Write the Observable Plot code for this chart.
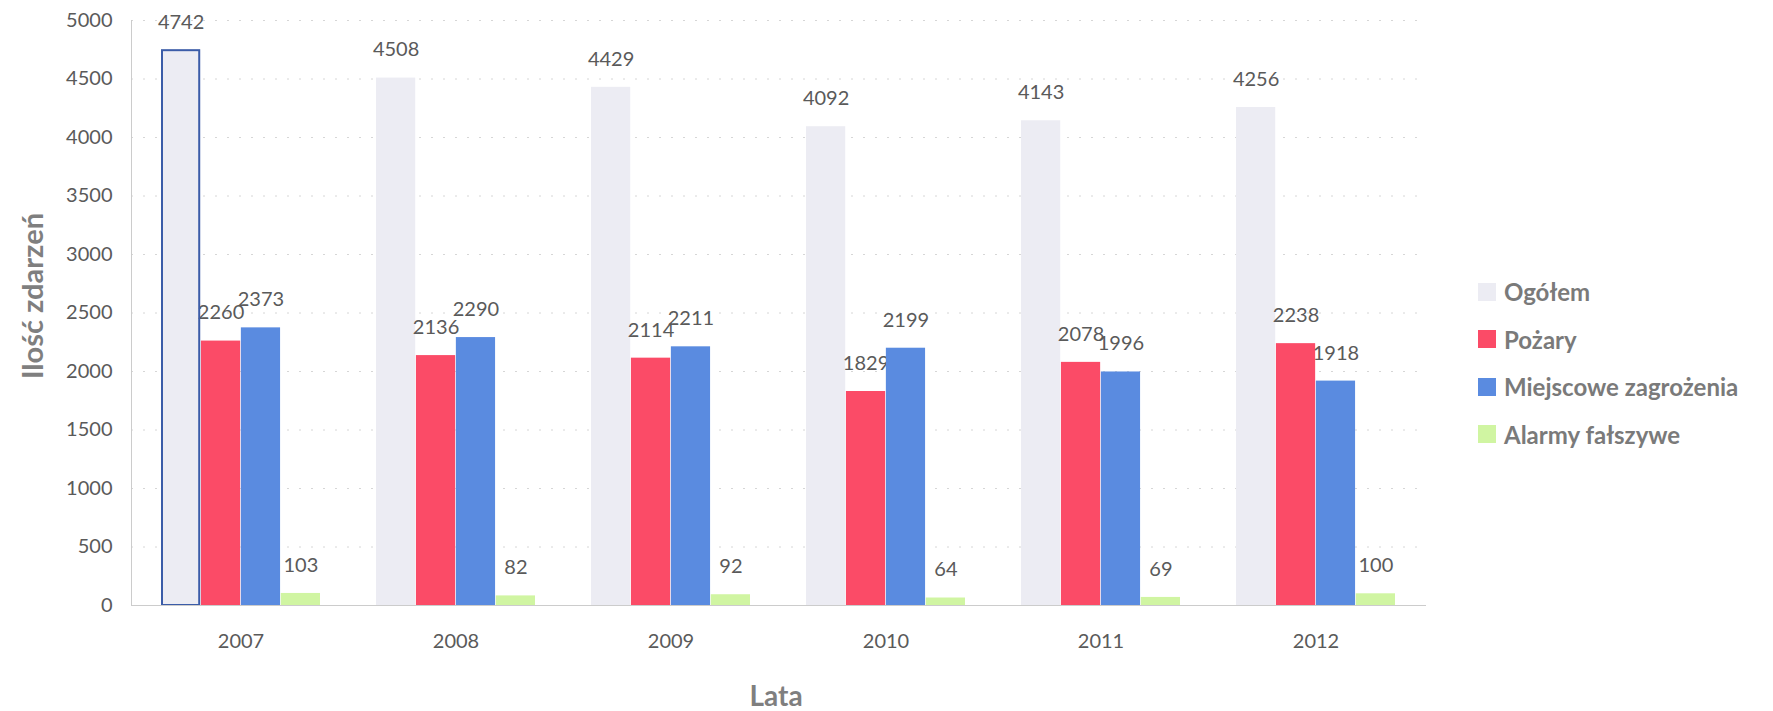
<!DOCTYPE html>
<html>
<head>
<meta charset="utf-8">
<script src="https://cdn.jsdelivr.net/npm/d3@7"></script>
<script src="https://cdn.jsdelivr.net/npm/@observablehq/plot@0.6"></script>
<style>
  html, body { margin: 0; padding: 0; background: #fff; }
  #wrap { position: relative; width: 1773px; height: 711px; font-family: Lato, "Open Sans", sans-serif; }
  #ytitle { position: absolute; left: 31px; top: 296px; transform: translate(-50%, -50%) rotate(-90deg); font-weight: bold; font-size: 29px; color: #7f7f7f; white-space: nowrap; }
  #xtitle { position: absolute; left: 776px; top: 695px; transform: translate(-50%, -50%); font-weight: bold; font-size: 28px; color: #7f7f7f; white-space: nowrap; }
  #legend { position: absolute; left: 1478px; top: 268px; font-weight: bold; font-size: 24px; color: #7a7a7a; }
  .row { display: flex; align-items: center; height: 47.5px; }
  .sw { width: 18px; height: 18px; margin-right: 8px; }
</style>
</head>
<body>
<div id="wrap">
  <div id="chart"></div>
  <div id="ytitle">Ilość zdarzeń</div>
  <div id="xtitle">Lata</div>
  <div id="legend"></div>
</div>
<script>
const years = ["2007", "2008", "2009", "2010", "2011", "2012"];
const series = ["Ogółem", "Pożary", "Miejscowe zagrożenia", "Alarmy fałszywe"];
const ogolem = [4742, 4508, 4429, 4092, 4143, 4256];
const pozary = [2260, 2136, 2114, 1829, 2078, 2238];
const miejscowe = [2373, 2290, 2211, 2199, 1996, 1918];
const alarmy = [103, 82, 92, 64, 69, 100];
const yTicks = [0, 500, 1000, 1500, 2000, 2500, 3000, 3500, 4000, 4500, 5000];
const colors = ["#ececf3", "#fb4b67", "#5a8be0", "#d0f5a2"];

const valuesBySeries = [ogolem, pozary, miejscowe, alarmy];
const data = years.flatMap((y, i) => series.map((s, j) => ({year: y, series: s, idx: j, value: valuesBySeries[j][i]})));

const W = 1773, H = 711, ML = 131, MR = 347, MT = 20, MB = 106;
const PI = 0.26, PO = 0.13;
const step = (W - ML - MR) / (years.length - PI + 2 * PO);
const bw = step * (1 - PI);
const sub = bw / series.length;

const seriesMarks = series.flatMap((s, j) => {
  const rows = data.filter(d => d.series === s);
  return [
    Plot.barY(rows, {x: "year", y: "value", fill: colors[j], insetLeft: sub * j, insetRight: sub * (series.length - 1 - j)}),
    Plot.text(rows, {x: "year", y: "value", text: d => String(d.value), dx: -bw / 2 + sub * (j + 0.5), dy: -28, fill: "#5a5a5a", fontSize: 20})
  ];
});

const chart = Plot.plot({
  width: W,
  height: H,
  marginLeft: ML,
  marginRight: MR,
  marginTop: MT,
  marginBottom: MB,
  style: {fontFamily: "Lato, 'Open Sans', sans-serif", fontSize: "20px", color: "#5a5a5a", background: "transparent"},
  x: {domain: years, paddingInner: PI, paddingOuter: PO, label: null, tickSize: 0, tickPadding: 28},
  y: {domain: [0, 5000], ticks: yTicks, label: null, tickSize: 0, tickPadding: 19, tickFormat: d => String(d)},
  marks: [
    Plot.ruleY(yTicks.filter(t => t > 0), {stroke: "#d6d6d6", strokeDasharray: "2,10"}),
    ...seriesMarks,
    Plot.barY(data.filter(d => d.year === years[0] && d.series === series[0]), {x: "year", y: "value", fill: "none", stroke: "#3b5ca8", strokeWidth: 2, insetLeft: 1, insetRight: sub * 3 + 1}),
    Plot.ruleY([0], {stroke: "#cccccc"}),
    Plot.frame({anchor: "left", stroke: "#cccccc"})
  ]
});
document.getElementById("chart").appendChild(chart);

const legend = document.getElementById("legend");
series.forEach((s, i) => {
  const row = document.createElement("div");
  row.className = "row";
  const sw = document.createElement("div");
  sw.className = "sw";
  sw.style.background = colors[i];
  const t = document.createElement("span");
  t.textContent = s;
  row.appendChild(sw);
  row.appendChild(t);
  legend.appendChild(row);
});
</script>
</body>
</html>
